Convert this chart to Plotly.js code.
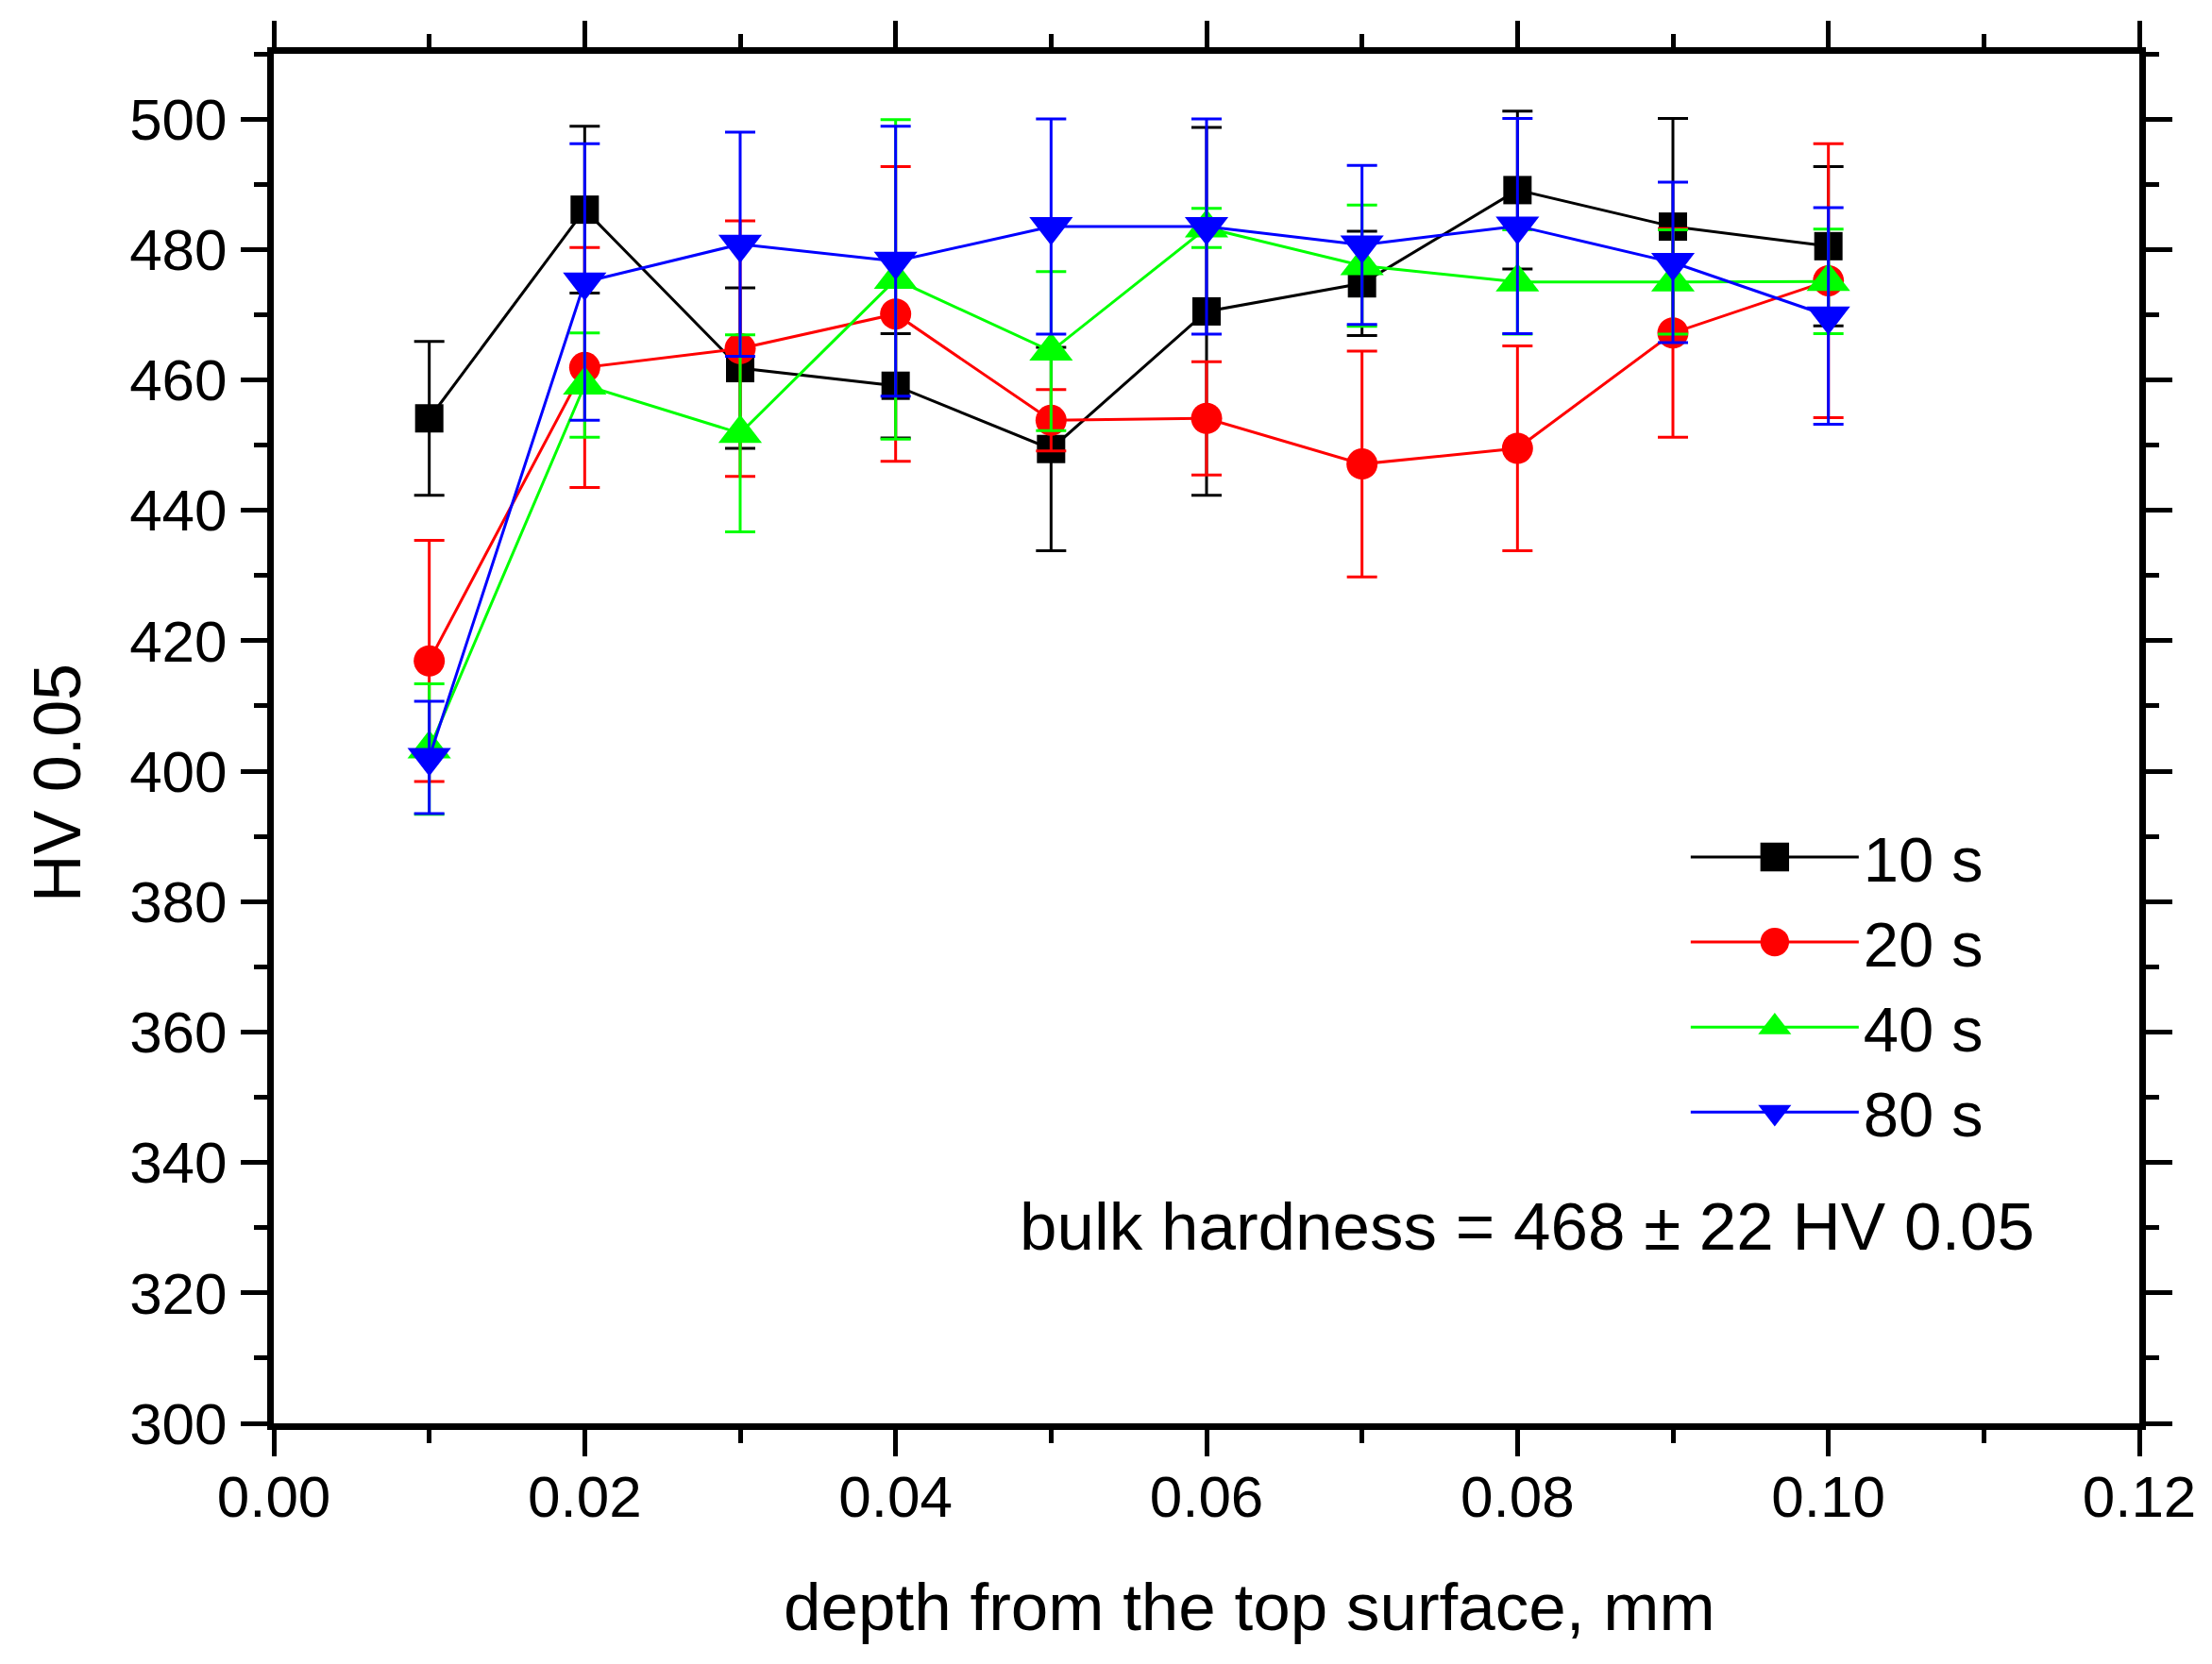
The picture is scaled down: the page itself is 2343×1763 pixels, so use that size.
<!DOCTYPE html>
<html>
<head>
<meta charset="utf-8">
<script src="https://cdn.plot.ly/plotly-3.0.1.min.js"></script>
<style>
  body { margin: 0; background: #fff; }
  #plot { width: 2343px; height: 1763px; }
</style>
</head>
<body>
<div id="plot"></div>
<script>
// depth from the top surface, mm
const depth = [0.01, 0.02, 0.03, 0.04, 0.05, 0.06, 0.07, 0.08, 0.09, 0.10];

// HV 0.05 values and error (+/-) for each time
const hv_10s = [454.1, 486.1, 461.8, 459.1, 449.4, 470.5, 474.8, 489.1, 483.5, 480.5];
const err_10s = [11.8, 12.8, 12.3, 8.0, 15.6, 28.2, 8.0, 12.1, 16.6, 12.2];

const hv_20s = [416.9, 461.9, 464.8, 470.1, 453.8, 454.1, 447.1, 449.5, 467.2, 475.2];
const err_20s = [18.5, 18.4, 19.6, 22.6, 4.7, 8.7, 17.3, 15.7, 16.0, 21.0];

const hv_40s = [403.4, 459.2, 451.8, 475.4, 464.4, 483.3, 477.5, 475.0, 475.0, 475.1];
const err_40s = [10.0, 8.0, 15.1, 24.5, 12.2, 3.0, 9.3, 8.0, 8.0, 8.0];

const hv_80s = [402.1, 475.0, 480.8, 478.2, 483.5, 483.5, 480.7, 483.6, 478.0, 469.8];
const err_80s = [8.6, 21.2, 17.2, 20.7, 16.5, 16.5, 12.2, 16.5, 12.3, 16.6];

const names = ["10 s", "20 s", "40 s", "80 s"];

// jedna funkcja do budowy serii (kolor, symbol, rozmiar markera)
function seria(y, err, name, color, symbol, size){
    return {
        type: "scatter",
        mode: "lines+markers",
        name: name,
        x: depth,
        y: y,
        line: {color: color, width: 3},
        marker: {color: color, symbol: symbol, size: size},
        error_y: {type: "data", array: err, visible: true, color: color, thickness: 3, width: 16}
    };
}

const data = [
    seria(hv_10s, err_10s, names[0], "#000000", "square", 30),
    seria(hv_20s, err_20s, names[1], "#ff0000", "circle", 33),
    seria(hv_40s, err_40s, names[2], "#00ff00", "triangle-up", 40),
    seria(hv_80s, err_80s, names[3], "#0000ff", "triangle-down", 40)
];

const axisStyle = {
    showline: true,
    linewidth: 7,
    linecolor: "#000",
    mirror: "ticks",
    ticks: "outside",
    ticklen: 28,
    tickwidth: 5,
    tickcolor: "#000",
    showgrid: false,
    zeroline: false,
    tickfont: {size: 62, color: "#000"}
};

const layout = {
    width: 2343,
    height: 1763,
    margin: {l: 290, r: 77, t: 57, b: 255},
    paper_bgcolor: "#fff",
    plot_bgcolor: "#fff",
    font: {family: "Liberation Sans, Arial, sans-serif", color: "#000"},
    showlegend: true,
    xaxis: Object.assign({}, axisStyle, {
        range: [0, 0.12],
        tick0: 0,
        dtick: 0.02,
        tickformat: ".2f",
        ticklabelstandoff: -10,
        minor: {dtick: 0.01, ticks: "outside", ticklen: 14, tickwidth: 5, tickcolor: "#000"}
    }),
    yaxis: Object.assign({}, axisStyle, {
        range: [300, 510],
        tick0: 300,
        dtick: 20,
        ticklabelstandoff: 2,
        minor: {dtick: 10, ticks: "outside", ticklen: 14, tickwidth: 5, tickcolor: "#000"}
    }),
    legend: {
        x: 0.757,
        y: 0.448,
        xanchor: "left",
        yanchor: "top",
        bgcolor: "rgba(0,0,0,0)",
        itemwidth: 178,
        font: {size: 67, color: "#000"},
        tracegroupgap: 0
    },
    annotations: [
        {
            text: "HV 0.05", xref: "paper", yref: "paper",
            x: -0.1159, y: 0.468, xanchor: "center", yanchor: "middle",
            textangle: -90, showarrow: false,
            font: {size: 70}
        },
        {
            text: "depth from the top surface, mm", xref: "paper", yref: "paper",
            x: 0.523, y: -0.134, xanchor: "center", yanchor: "middle",
            showarrow: false,
            font: {size: 71}
        },
        {
            text: "bulk hardness = 468 \u00b1 22 HV 0.05", xref: "paper", yref: "paper",
            x: 0.6716, y: 0.144, xanchor: "center", yanchor: "middle",
            showarrow: false,
            font: {size: 71}
        }
    ]
};

Plotly.newPlot("plot", data, layout, {displayModeBar: false, staticPlot: true}).then(function(gd){
    // legenda w Plotly obcina rozmiar markera do 16px, wiec powiekszamy symbole
    gd.querySelectorAll(".legend .legendpoints path.scatterpts").forEach(function(p){
        const t = p.getAttribute("transform") || "";
        p.setAttribute("transform", t + " scale(1.9)");
    });
});
</script>
</body>
</html>
